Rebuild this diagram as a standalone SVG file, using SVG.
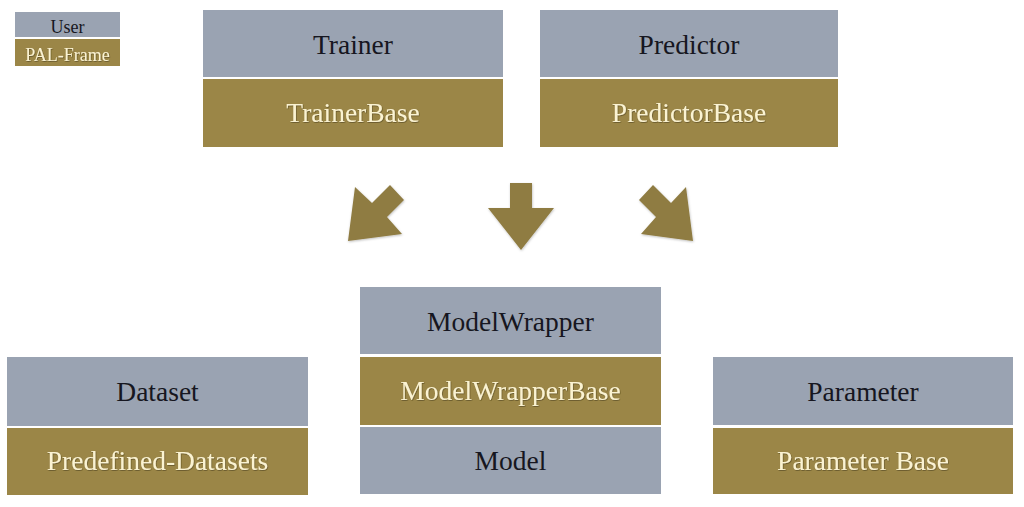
<svg xmlns="http://www.w3.org/2000/svg" width="1024" height="507" viewBox="0 0 1024 507">
<style>
.u{fill:#9aa3b2;}
.b{fill:#9b8647;}
.ut{font-family:"Liberation Serif",serif;font-size:27.5px;fill:#161620;text-anchor:middle;}
.bt{font-family:"Liberation Serif",serif;font-size:27.5px;fill:#fbf3d2;text-anchor:middle;filter:url(#ts);}
.lt{font-size:18px;}
.arr{fill:#8f7c43;filter:url(#as);}
</style>
<defs>
<filter id="ts" x="-10%" y="-30%" width="120%" height="160%"><feDropShadow dx="0.6" dy="0.8" stdDeviation="0.6" flood-color="#3a3010" flood-opacity="0.6"/></filter>
<filter id="as" x="-20%" y="-20%" width="140%" height="140%"><feDropShadow dx="0.5" dy="1" stdDeviation="1" flood-color="#000" flood-opacity="0.25"/></filter>
</defs>
<rect width="1024" height="507" fill="#fff"/>
<g id="legend">
<rect class="u" x="15" y="12" width="105" height="25"/>
<rect class="b" x="15" y="39" width="105" height="27"/>
<text class="ut lt" x="67.5" y="33">User</text>
<text class="bt lt" x="67.5" y="61">PAL-Frame</text>
</g>
<g id="trainer">
<rect class="u" x="203" y="10" width="300" height="67"/>
<rect class="b" x="203" y="79" width="300" height="68"/>
<text class="ut" x="353" y="54">Trainer</text>
<text class="bt" x="353" y="122">TrainerBase</text>
</g>
<g id="predictor">
<rect class="u" x="540" y="10" width="298" height="67"/>
<rect class="b" x="540" y="79" width="298" height="68"/>
<text class="ut" x="689" y="54">Predictor</text>
<text class="bt" x="689" y="122">PredictorBase</text>
</g>
<g id="connectors">
<polygon class="arr" points="355,187 372,203 390,185 404,200 387,217 402,234 348,241"/>
<polygon class="arr" points="510,183 532,183 532,208 554,208 521,250 488,208 510,208"/>
<polygon class="arr" points="686,187 671,203 653,185 639,200 656,217 641,234 693,241"/>
</g>
<g id="dataset">
<rect class="u" x="7" y="357" width="301" height="69"/>
<rect class="b" x="7" y="428" width="301" height="67"/>
<text class="ut" x="157.5" y="401">Dataset</text>
<text class="bt" x="157.5" y="470">Predefined-Datasets</text>
</g>
<g id="modelwrapper">
<rect class="u" x="360" y="287" width="301" height="67"/>
<rect class="b" x="360" y="357" width="301" height="68"/>
<rect class="u" x="360" y="427" width="301" height="67"/>
<text class="ut" x="510.5" y="331">ModelWrapper</text>
<text class="bt" x="510.5" y="400">ModelWrapperBase</text>
<text class="ut" x="510.5" y="470">Model</text>
</g>
<g id="parameter">
<rect class="u" x="713" y="357" width="300" height="68"/>
<rect class="b" x="713" y="428" width="300" height="66"/>
<text class="ut" x="863" y="401">Parameter</text>
<text class="bt" x="863" y="470">Parameter Base</text>
</g>
</svg>
